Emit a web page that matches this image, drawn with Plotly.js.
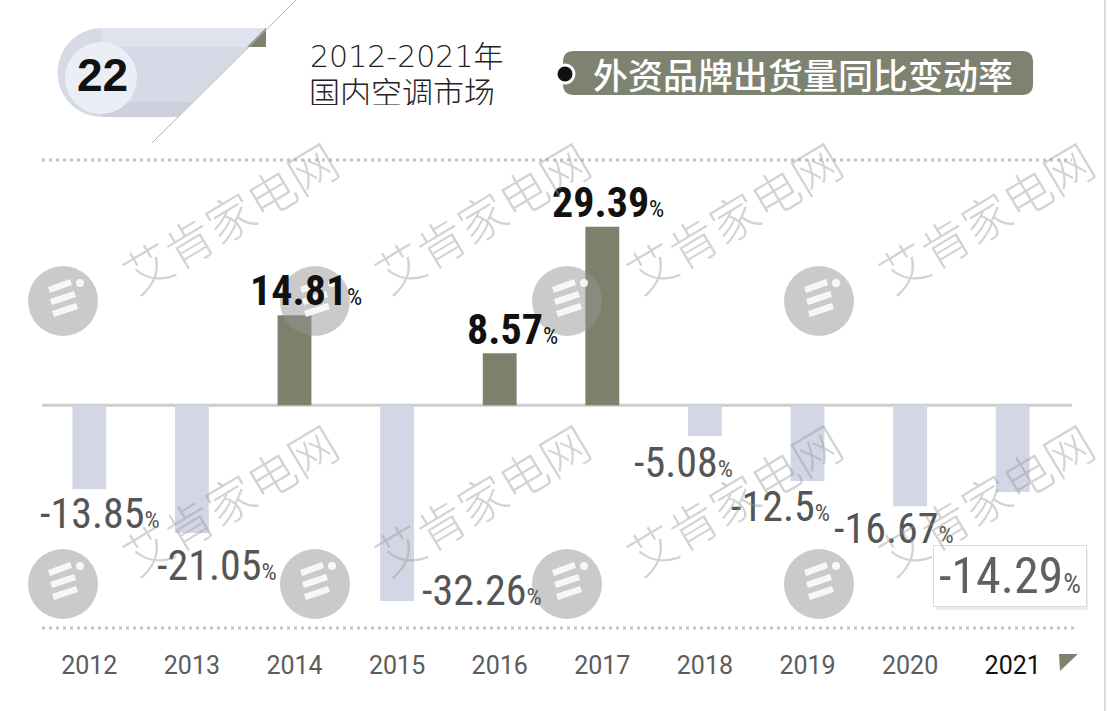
<!DOCTYPE html>
<html>
<head>
<meta charset="utf-8">
<script src="https://cdn.plot.ly/plotly-3.0.1.min.js"></script>
<style>
  html, body { margin: 0; padding: 0; background: #ffffff; }
  #chart { width: 1108px; height: 711px; }
</style>
</head>
<body>
<div id="chart"></div>
<script>
// ---------------- data ----------------
const years = ['2012', '2013', '2014', '2015', '2016', '2017', '2018', '2019', '2020', '2021'];
const changeRate = [-13.85, -21.05, 14.81, -32.26, 8.57, 29.39, -5.08, -12.5, -16.67, -14.29];
const titleLine1 = '2012-2021年';
const titleLine2 = '国内空调市场';
const seriesName = '外资品牌出货量同比变动率';
const badgeNumber = '22';
const watermarkText = '艾肯家电网';

// ---------------- geometry helpers ----------------
const W = 1108, H = 711, L = 38, R = 44, T = 132, B = 63;
const PW = W - L - R, PH = H - T - B;
const px = X => (X - L) / PW;
const py = Y => (H - B - Y) / PH;
function poly(pts) {
  return 'M' + pts.map(p => px(p[0]).toFixed(5) + ',' + py(p[1]).toFixed(5)).join(' L') + ' Z';
}
function roundRect(x0, y0, x1, y1, r) {
  const P = (x, y) => px(x).toFixed(5) + ',' + py(y).toFixed(5);
  return 'M' + P(x0 + r, y0) + ' L' + P(x1 - r, y0) + ' Q' + P(x1, y0) + ' ' + P(x1, y0 + r) +
    ' L' + P(x1, y1 - r) + ' Q' + P(x1, y1) + ' ' + P(x1 - r, y1) +
    ' L' + P(x0 + r, y1) + ' Q' + P(x0, y1) + ' ' + P(x0, y1 - r) +
    ' L' + P(x0, y0 + r) + ' Q' + P(x0, y0) + ' ' + P(x0 + r, y0) + ' Z';
}
function circ(cx, cy, r, fill, line, lw, layer) {
  return { type: 'circle', xref: 'paper', yref: 'paper', x0: px(cx - r), x1: px(cx + r),
    y0: py(cy + r), y1: py(cy - r), fillcolor: fill,
    line: { color: line || 'rgba(0,0,0,0)', width: lw || 0 }, layer: layer || 'above' };
}

const POS = '#7d816c', NEG = '#d3d7e5', OLIVE = '#7e8270';
const NUMFONT = '"Roboto Condensed", "DejaVu Sans Condensed", sans-serif';

// ---------------- bars ----------------
const xIdx = years.map((_, i) => i);
const trace = {
  type: 'bar', x: xIdx, y: changeRate,
  marker: { color: changeRate.map(v => v >= 0 ? POS : NEG), line: { width: 0 } },
  width: 0.33, hoverinfo: 'skip', cliponaxis: false
};

// label offsets (pixels) from the bar end: [dx, dy(down)]
const labelOffset = [[11, 24], [25, 32], [11, -25], [85, -11], [13, -24], [6, -25], [-21, 26], [-27, 25], [-16, 22], [-3, 84]];

const annotations = [];
changeRate.forEach((v, i) => {
  const last = i === changeRate.length - 1;
  const pos = v >= 0;
  const size = last ? 50 : 42;
  const psize = last ? 28 : 24;
  annotations.push({
    xref: 'x', yref: 'y', x: i, y: v,
    xshift: labelOffset[i][0], yshift: -labelOffset[i][1],
    xanchor: 'center', yanchor: 'middle', showarrow: false,
    text: String(v) + '<span style="font-size:' + psize + 'px;font-weight:400">%</span>',
    font: { family: NUMFONT, size: size, weight: pos ? 700 : 400,
      color: pos ? '#111111' : (last ? '#606060' : '#555555') },
    bgcolor: last ? '#ffffff' : 'rgba(0,0,0,0)',
    bordercolor: last ? '#dcdcdc' : 'rgba(0,0,0,0)',
    borderwidth: last ? 1 : 0,
    width: last ? 150 : undefined, height: last ? 58 : 36
  });
});

// header texts
annotations.push({ xref: 'paper', yref: 'paper', x: px(308), y: py(56), xanchor: 'left', yanchor: 'middle',
  showarrow: false, text: titleLine1, height: 28,
  font: { family: '"DejaVu Sans", "Noto Sans CJK SC", sans-serif', size: 30, color: '#222222', weight: 300 } });
annotations.push({ xref: 'paper', yref: 'paper', x: px(307), y: py(90), xanchor: 'left', yanchor: 'middle',
  showarrow: false, text: titleLine2, height: 30,
  font: { family: '"Noto Sans CJK SC", sans-serif', size: 31, color: '#222222', weight: 300 } });
annotations.push({ xref: 'paper', yref: 'paper', x: px(803), y: py(73), xanchor: 'center', yanchor: 'middle',
  showarrow: false, text: seriesName, height: 40,
  font: { family: '"Noto Sans CJK SC", sans-serif', size: 35, color: '#ffffff', weight: 500 } });
annotations.push({ xref: 'paper', yref: 'paper', x: px(102), y: py(75), xanchor: 'center', yanchor: 'middle',
  showarrow: false, text: badgeNumber,
  font: { family: '"Liberation Sans", Arial, sans-serif', size: 46, color: '#111111', weight: 700 } });

// watermarks
const wmCols = [0, 1, 2, 3];
const wmRows = [[216, 301], [498, 584]];
const shapes = [];
wmRows.forEach(r => {
  wmCols.forEach(c => {
    const dx = c * 252;
    annotations.push({ xref: 'paper', yref: 'paper', x: px(229 + dx), y: py(r[0]), xanchor: 'center', yanchor: 'middle',
      showarrow: false, text: watermarkText, textangle: -31,
      font: { family: '"Noto Sans CJK SC", sans-serif', size: 48, color: 'rgba(150,150,150,0.42)', weight: 300 } });
    shapes.push(circ(63 + dx, r[1], 35, 'rgba(150,150,150,0.5)'));
    // simplified logo strokes
    shapes.push({ type: 'path', xref: 'paper', yref: 'paper', layer: 'above',
      path: poly([[48 + dx, r[1] - 14], [70 + dx, r[1] - 22], [72 + dx, r[1] - 16], [50 + dx, r[1] - 8]]),
      fillcolor: 'rgba(255,255,255,0.85)', line: { width: 0 } });
    shapes.push({ type: 'path', xref: 'paper', yref: 'paper', layer: 'above',
      path: poly([[50 + dx, r[1] - 2], [74 + dx, r[1] - 10], [76 + dx, r[1] - 4], [52 + dx, r[1] + 4]]),
      fillcolor: 'rgba(255,255,255,0.85)', line: { width: 0 } });
    shapes.push({ type: 'path', xref: 'paper', yref: 'paper', layer: 'above',
      path: poly([[52 + dx, r[1] + 10], [76 + dx, r[1] + 2], [78 + dx, r[1] + 8], [54 + dx, r[1] + 16]]),
      fillcolor: 'rgba(255,255,255,0.85)', line: { width: 0 } });
    shapes.push(circ(80 + dx, r[1] - 18, 4, 'rgba(255,255,255,0.85)'));
  });
});

// decorative shapes
const deco = [
  { type: 'line', xref: 'paper', yref: 'paper', x0: px(42), x1: px(1072), y0: py(160), y1: py(160),
    line: { color: '#c4c4c4', width: 3, dash: '3px,4px' }, layer: 'below' },
  { type: 'line', xref: 'paper', yref: 'paper', x0: px(42), x1: px(1078), y0: py(628), y1: py(628),
    line: { color: '#c4c4c4', width: 3, dash: '3px,4px' }, layer: 'below' },
  { type: 'line', xref: 'paper', yref: 'y', x0: px(42), x1: px(1072), y0: 0, y1: 0,
    line: { color: '#cdcdcd', width: 3 }, layer: 'below' },
  { type: 'line', xref: 'paper', yref: 'paper', x0: px(1105), x1: px(1105), y0: py(0), y1: py(711),
    line: { color: '#cfcfcf', width: 1.5 }, layer: 'below' },
  circ(102, 72.5, 44.5, '#d6d9e6', null, 0, 'below'),
  { type: 'path', xref: 'paper', yref: 'paper', layer: 'below',
    path: poly([[102, 28], [267, 28], [178, 117], [102, 117]]), fillcolor: '#d6d9e6', line: { width: 0 } },
  { type: 'path', xref: 'paper', yref: 'paper', layer: 'below',
    path: poly([[102, 28], [267, 28], [248, 47], [102, 47]]), fillcolor: '#e0e3ed', line: { width: 0 } },
  { type: 'path', xref: 'paper', yref: 'paper', layer: 'below',
    path: poly([[102, 102], [193, 102], [178, 117], [102, 117]]), fillcolor: '#cdd1de', line: { width: 0 } },
  circ(101, 78, 36, '#eceef5', null, 0, 'below'),
  { type: 'path', xref: 'paper', yref: 'paper', layer: 'below',
    path: poly([[266, 28], [266, 47], [247, 47]]), fillcolor: OLIVE, line: { width: 0 } },
  { type: 'line', xref: 'paper', yref: 'paper', x0: px(296), x1: px(152), y0: py(0), y1: py(143),
    line: { color: '#b5b5b5', width: 1 }, layer: 'below' },
  { type: 'path', xref: 'paper', yref: 'paper', layer: 'below',
    path: roundRect(563, 51, 1033, 95, 11), fillcolor: OLIVE, line: { width: 0 } },
  circ(565, 74, 9, '#111111', '#ffffff', 3, 'below'),
  { type: 'path', xref: 'paper', yref: 'paper', layer: 'below',
    path: poly([[1059, 654], [1078, 654], [1060, 671]]), fillcolor: OLIVE, line: { width: 0 } },
  { type: 'path', xref: 'paper', yref: 'paper', layer: 'below',
    path: poly([[936, 550], [1088, 550], [1088, 610], [936, 610]]), fillcolor: 'rgba(0,0,0,0.08)', line: { width: 0 } }
];

const tickText = years.map((y, i) => i === years.length - 1 ? '<span style="color:#111111">' + y + '</span>' : y);

const layout = {
  width: W, height: H,
  margin: { l: L, r: R, t: T, b: B, pad: 0 },
  paper_bgcolor: '#ffffff', plot_bgcolor: 'rgba(0,0,0,0)',
  showlegend: false,
  xaxis: {
    range: [-0.5, 9.5], tickvals: xIdx, ticktext: tickText, showgrid: false, zeroline: false,
    showline: false, ticks: '', fixedrange: true,
    tickfont: { family: 'Roboto, "Noto Sans", sans-serif', size: 25, color: '#5c5c5c', weight: 400 }
  },
  yaxis: { range: [-40, 45], visible: false, showgrid: false, zeroline: false, fixedrange: true },
  shapes: deco.concat(shapes),
  annotations: annotations
};

Plotly.newPlot('chart', [trace], layout, { displayModeBar: false, staticPlot: true });
</script>
</body>
</html>
